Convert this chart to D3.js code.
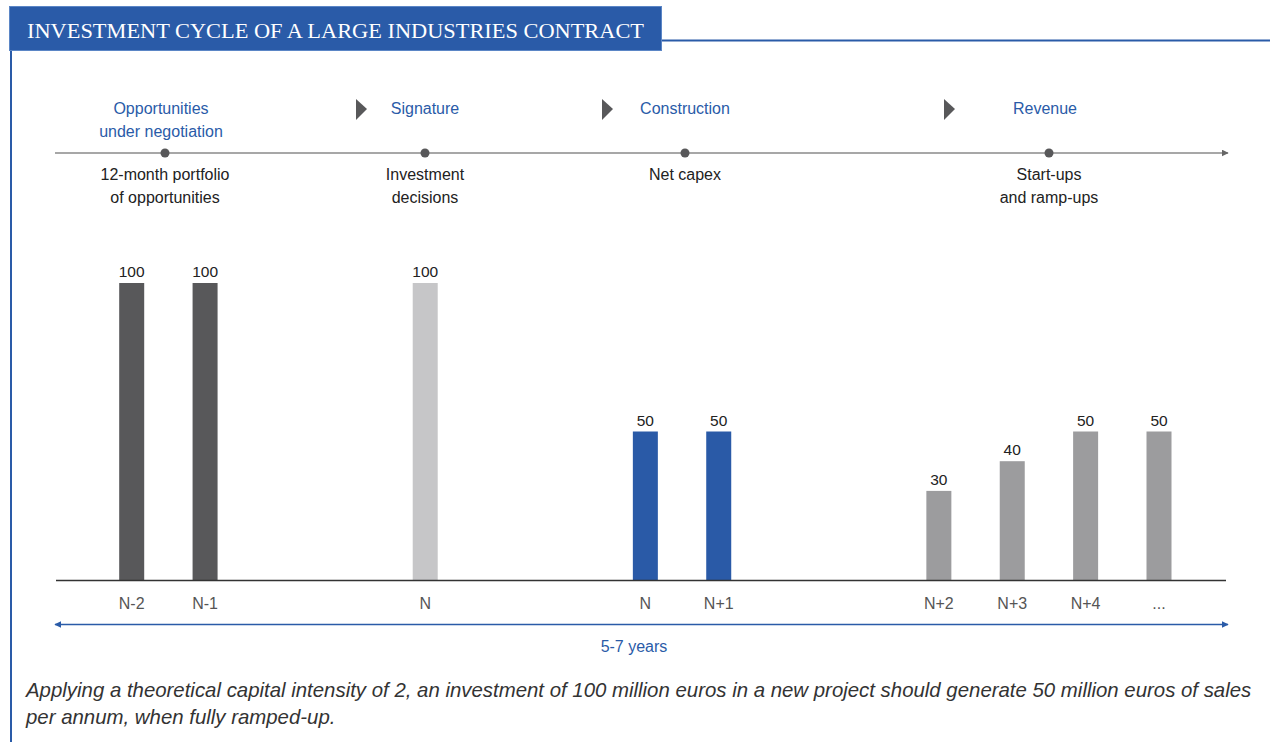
<!DOCTYPE html>
<html>
<head>
<meta charset="utf-8">
<script src="https://cdn.jsdelivr.net/npm/d3@7"></script>
<style>
  html, body { margin: 0; padding: 0; background: #fff; }
  svg { display: block; }
  text { font-family: "Liberation Sans", Arial, sans-serif; }
</style>
</head>
<body>
<svg id="chart" width="1270" height="742"></svg>
<script>
// ---- data ----
const title = "INVESTMENT CYCLE OF A LARGE INDUSTRIES CONTRACT";
const phaseNames = [["Opportunities", "under negotiation"], ["Signature"], ["Construction"], ["Revenue"]];
const phaseDescriptions = [["12-month portfolio", "of opportunities"], ["Investment", "decisions"], ["Net capex"], ["Start-ups", "and ramp-ups"]];
const slots = ["s0","s1","s2","s3","s4","s5","s6","s7","s8","s9","s10","s11","s12","s13","s14"];
const barSlots = ["s0","s1","s4","s7","s8","s11","s12","s13","s14"];
const barLabels = ["N-2","N-1","N","N","N+1","N+2","N+3","N+4","..."];
const barValues = [100, 100, 100, 50, 50, 30, 40, 50, 50];
const barGroups = ["opp","opp","sig","con","con","rev","rev","rev","rev"];
const spanLabel = "5-7 years";
const footnote = ["Applying a theoretical capital intensity of 2, an investment of 100 million euros in a new project should generate 50 million euros of sales",
                  "per annum, when fully ramped-up."];

// ---- styles ----
const blue = "#2a5ba8";
const groupColor = { opp: "#58585a", sig: "#c6c6c8", con: "#2a5aa7", rev: "#9c9c9e" };
const phaseX = [165, 425, 685, 1049];
const phaseLabelX = [161, 425, 685, 1045];
const arrowX = [361, 607, 949];

const svg = d3.select("#chart");

// header
svg.append("line").attr("x1", 661).attr("x2", 1270).attr("y1", 40.5).attr("y2", 40.5)
  .attr("stroke", blue).attr("stroke-width", 2);
svg.append("line").attr("x1", 11).attr("x2", 11).attr("y1", 51).attr("y2", 742)
  .attr("stroke", blue).attr("stroke-width", 2);
svg.append("rect").attr("x", 9.5).attr("y", 6.5).attr("width", 652).attr("height", 44)
  .attr("fill", blue).attr("stroke", "#5b86c6").attr("stroke-width", 1);
svg.append("text").attr("x", 27).attr("y", 37.5).text(title)
  .attr("fill", "#fff").style("font-family", "'Liberation Serif', 'DejaVu Serif', serif")
  .style("font-size", "20px").attr("textLength", 617).attr("lengthAdjust", "spacingAndGlyphs");

// defs for arrows
const defs = svg.append("defs");
function marker(id, color, orient) {
  defs.append("marker").attr("id", id).attr("viewBox", "0 0 10 10")
    .attr("refX", 9).attr("refY", 5).attr("markerWidth", 7).attr("markerHeight", 7)
    .attr("markerUnits", "userSpaceOnUse").attr("orient", orient)
    .append("path").attr("d", "M0,0 L10,5 L0,10 Z").attr("fill", color);
}
marker("arrGray", "#666", "auto");
marker("arrBlue", blue, "auto");
marker("arrBlueStart", blue, "auto-start-reverse");

// timeline
svg.append("line").attr("x1", 55).attr("x2", 1228).attr("y1", 153).attr("y2", 153)
  .attr("stroke", "#8a8a8a").attr("stroke-width", 1.5).attr("marker-end", "url(#arrGray)");
svg.selectAll("circle.dot").data(phaseX).join("circle").attr("class", "dot")
  .attr("cx", d => d).attr("cy", 153).attr("r", 4.5).attr("fill", "#58585a");

// phase names
phaseNames.forEach((lines, i) => {
  const t = svg.append("text").attr("x", phaseLabelX[i]).attr("y", 114)
    .attr("text-anchor", "middle").attr("fill", blue).style("font-size", "16px");
  lines.forEach((l, j) => t.append("tspan").attr("x", phaseLabelX[i]).attr("dy", j ? 23 : 0).text(l));
});
// triangles
svg.selectAll("path.tri").data(arrowX).join("path").attr("class", "tri")
  .attr("d", d => `M${d - 5},99 L${d + 6},109 L${d - 5},120 Z`).attr("fill", "#58585a");

// descriptions
phaseDescriptions.forEach((lines, i) => {
  const t = svg.append("text").attr("x", phaseX[i]).attr("y", 180)
    .attr("text-anchor", "middle").attr("fill", "#222").style("font-size", "16px");
  lines.forEach((l, j) => t.append("tspan").attr("x", phaseX[i]).attr("dy", j ? 23 : 0).text(l));
});

// bars
const x = d3.scalePoint().domain(slots).range([131.7, 1159]);
const y = d3.scaleLinear().domain([0, 100]).range([580, 283]);
const bw = 25;
const bars = barValues.map((v, i) => ({ slot: barSlots[i], label: barLabels[i], v, g: barGroups[i] }));

svg.selectAll("rect.bar").data(bars).join("rect").attr("class", "bar")
  .attr("x", d => x(d.slot) - bw / 2).attr("width", bw)
  .attr("y", d => y(d.v)).attr("height", d => y(0) - y(d.v))
  .attr("fill", d => groupColor[d.g]);

svg.selectAll("text.val").data(bars).join("text").attr("class", "val")
  .attr("x", d => x(d.slot)).attr("y", d => y(d.v) - 6)
  .attr("text-anchor", "middle").attr("fill", "#222").style("font-size", "15.5px")
  .text(d => d.v);

// baseline
svg.append("line").attr("x1", 56).attr("x2", 1226).attr("y1", 580.5).attr("y2", 580.5)
  .attr("stroke", "#333").attr("stroke-width", 1.3);

svg.selectAll("text.cat").data(bars).join("text").attr("class", "cat")
  .attr("x", d => x(d.slot)).attr("y", 609)
  .attr("text-anchor", "middle").attr("fill", "#555").style("font-size", "16px")
  .text(d => d.label);

// span arrow
svg.append("line").attr("x1", 55).attr("x2", 1228).attr("y1", 624.5).attr("y2", 624.5)
  .attr("stroke", blue).attr("stroke-width", 1.3)
  .attr("marker-start", "url(#arrBlueStart)").attr("marker-end", "url(#arrBlue)");
svg.append("text").attr("x", 634).attr("y", 652).attr("text-anchor", "middle")
  .attr("fill", blue).style("font-size", "16px").text(spanLabel);

// footnote
footnote.forEach((l, i) => {
  svg.append("text").attr("x", 26).attr("y", 697 + i * 27).attr("fill", "#333")
    .style("font-size", "20.4px").style("font-style", "italic").text(l);
});
</script>
</body>
</html>
